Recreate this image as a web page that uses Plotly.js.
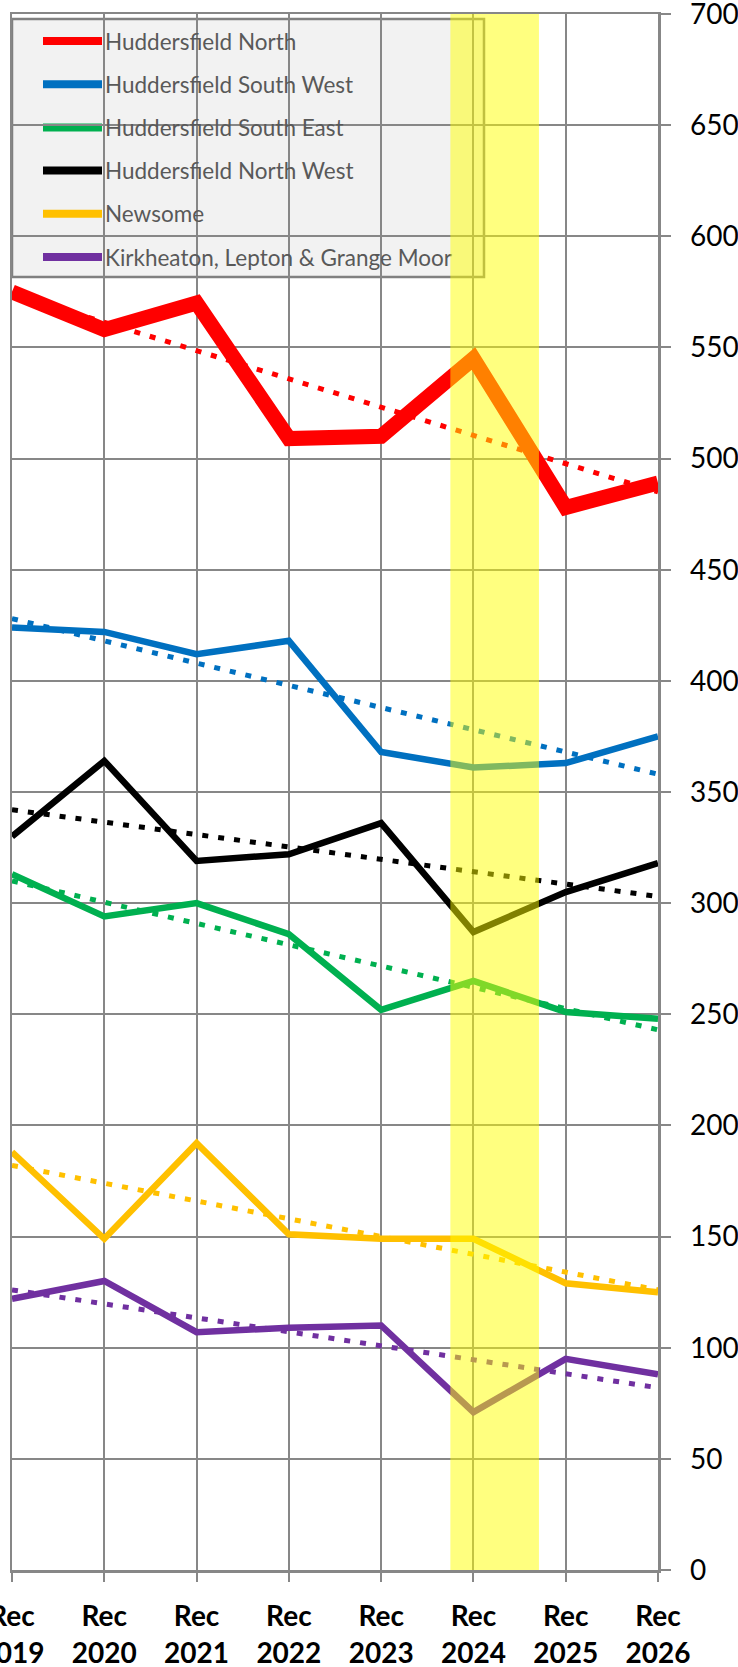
<!DOCTYPE html>
<html>
<head>
<meta charset="utf-8">
<script src="https://cdn.plot.ly/plotly-3.0.1.min.js"></script>
<style>
html,body{margin:0;padding:0;background:#ffffff;}
#chart{width:738px;height:1667px;}
</style>
</head>
<body>
<div id="chart"></div>
<script>
// ---------- data ----------
const years = ['2019','2020','2021','2022','2023','2024','2025','2026'];
const tickPrefix = 'Rec';
const seriesNames = [
  'Huddersfield North',
  'Huddersfield South West',
  'Huddersfield South East',
  'Huddersfield North West',
  'Newsome',
  'Kirkheaton, Lepton & Grange Moor'
];
const huddersfieldNorth     = [575, 558, 570, 509, 510, 545, 478, 489];
const huddersfieldSouthWest = [424, 422, 412, 418, 368, 361, 363, 375];
const huddersfieldSouthEast = [313, 294, 300, 286, 252, 265, 251, 248];
const huddersfieldNorthWest = [330, 364, 319, 322, 336, 287, 305, 318];
const newsome               = [188, 149, 192, 151, 149, 149, 129, 125];
const kirkheaton            = [122, 130, 107, 109, 110,  71,  95,  88];
// linear trendlines: value at first year and at last year
const trendNorth     = [574, 485];
const trendSouthWest = [428, 358];
const trendSouthEast = [310, 243];
const trendNorthWest = [342, 303];
const trendNewsome   = [182, 126];
const trendKirkheaton= [126,  82];
const highlightYear = '2024';
const yTickValues = [0,50,100,150,200,250,300,350,400,450,500,550,600,650,700];

// ---------- styles ----------
const seriesValues = [huddersfieldNorth, huddersfieldSouthWest, huddersfieldSouthEast,
                      huddersfieldNorthWest, newsome, kirkheaton];
const trendValues = [trendNorth, trendSouthWest, trendSouthEast,
                     trendNorthWest, trendNewsome, trendKirkheaton];
const colors = ['#FF0000', '#0070C0', '#00B050', '#000000', '#FFC000', '#7030A0'];
const widths = [15, 6.5, 6.5, 6.5, 6.5, 6.5];
const gridCol = '#878787';
const FONT = 'Lato, "Open Sans", "DejaVu Sans", sans-serif';
const Y_MAX = 700;

const W = 738, H = 1667;
const M = {l: 12, r: 80, t: 14, b: 97};
const PW = W - M.l - M.r, PH = H - M.t - M.b;
const xIdx = years.map((_, i) => i);
const lastIdx = years.length - 1;
// pixel -> paper / data helpers for legend placement
const px2x = p => (p - M.l) / PW;
const px2y = p => (H - M.b - p) / PH;
const px2dx = p => px2x(p) * lastIdx;
const px2dy = p => px2y(p) * Y_MAX;

const traces = [];
seriesValues.forEach((vals, i) => {
  traces.push({
    type: 'scatter', mode: 'lines', x: xIdx, y: vals, name: seriesNames[i],
    line: {color: colors[i], width: widths[i], shape: 'linear'},
    showlegend: false, hoverinfo: 'skip'
  });
});
trendValues.forEach((tv, i) => {
  traces.push({
    type: 'scatter', mode: 'lines', x: [0, lastIdx], y: tv,
    name: 'Linear (' + seriesNames[i] + ')',
    line: {color: colors[i], width: 5, dash: '6px,10px'},
    showlegend: false, hoverinfo: 'skip'
  });
});

// ---------- manual legend (box, samples, labels) ----------
const shapes = [];
shapes.push({
  type: 'rect', xref: 'paper', yref: 'paper', layer: 'between',
  x0: px2x(12), x1: px2x(484), y0: px2y(277), y1: px2y(19),
  fillcolor: '#F2F2F2', line: {color: '#808080', width: 2.5}
});
const legendY = seriesNames.map((_, i) => 41 + i * 43.2);
seriesNames.forEach((nm, i) => {
  shapes.push({
    type: 'line', xref: 'paper', yref: 'paper', layer: 'between',
    x0: px2x(43), x1: px2x(102), y0: px2y(legendY[i]), y1: px2y(legendY[i]),
    line: {color: colors[i], width: 8}
  });
});
traces.push({
  type: 'scatter', mode: 'text',
  x: seriesNames.map(() => px2dx(105)), y: legendY.map(v => px2dy(v + 3)),
  text: seriesNames, textposition: 'middle right', cliponaxis: false,
  textfont: {family: FONT, size: 22.5, color: '#595959'},
  showlegend: false, hoverinfo: 'skip'
});
// highlighted year band (semi-transparent yellow, above everything in the plot)
const hi = years.indexOf(highlightYear);
shapes.push({
  type: 'rect', xref: 'x', yref: 'y', layer: 'above',
  x0: hi - 0.25, x1: hi + 0.71, y0: -1.8, y1: Y_MAX + 0.6,
  fillcolor: 'rgba(255,255,0,0.5)', line: {width: 0}
});

const layout = {
  width: W, height: H,
  margin: M,
  paper_bgcolor: '#ffffff', plot_bgcolor: '#ffffff',
  showlegend: false,
  xaxis: {
    type: 'linear', range: [0, lastIdx],
    tickmode: 'array', tickvals: xIdx, ticktext: years.map(y => tickPrefix + '<br>' + y),
    showgrid: true, gridcolor: gridCol, gridwidth: 2,
    showline: true, linecolor: gridCol, linewidth: 2.5, mirror: true,
    ticks: 'outside', ticklen: 9, tickwidth: 2, tickcolor: gridCol,
    zeroline: false, ticklabelstandoff: 11, ticklabeloverflow: 'allow',
    tickfont: {family: FONT, size: 28, color: '#000000', weight: 'bold'}
  },
  yaxis: {
    side: 'right', range: [0, Y_MAX],
    tickmode: 'array', tickvals: yTickValues,
    showgrid: true, gridcolor: gridCol, gridwidth: 2,
    showline: true, linecolor: gridCol, linewidth: 2.5, mirror: true,
    ticks: 'outside', ticklen: 10, tickwidth: 2, tickcolor: gridCol,
    zeroline: false, ticklabelstandoff: 14, ticklabeloverflow: 'allow',
    tickfont: {family: FONT, size: 28, color: '#000000'}
  },
  shapes: shapes
};

Plotly.newPlot('chart', traces, layout, {staticPlot: true, displayModeBar: false});
</script>
</body>
</html>
